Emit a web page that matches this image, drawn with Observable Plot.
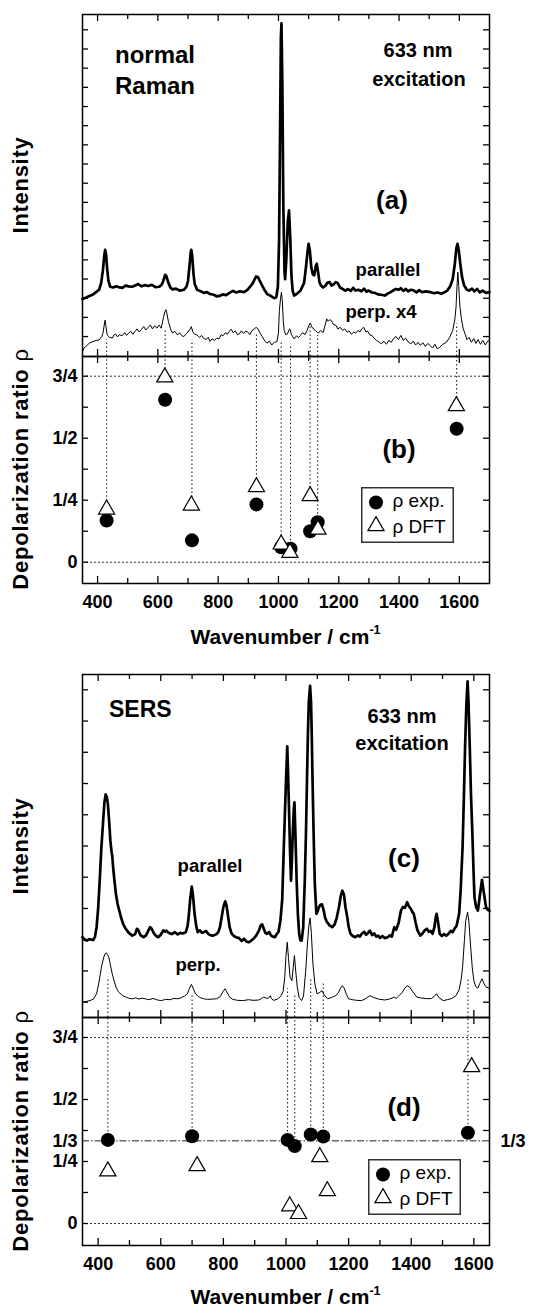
<!DOCTYPE html>
<html><head><meta charset="utf-8">
<script src="https://cdn.jsdelivr.net/npm/d3@7"></script>
<script src="https://cdn.jsdelivr.net/npm/@observablehq/plot@0.6"></script>
<style>
body{margin:0;background:#fff;}
#fig{position:relative;width:538px;height:1308px;font-family:'Liberation Sans',Arial,Helvetica,sans-serif;color:#000;overflow:hidden;}
#fig svg{position:absolute;left:0;}
.t{position:absolute;white-space:nowrap;line-height:1;}
.t sup{font-size:0.6em;vertical-align:0;position:relative;top:-0.75em;line-height:0;}
</style></head><body><div id="fig"></div>
<script>
// ================= DATA =================
// Panel (a): normal Raman spectra  [wavenumber, intensity (a.u.)]
const topParallel = [[350,0.98],[362,1.02],[373,1.06],[385,1.10],[395,1.16],[405,1.22],[412,1.40],[418,1.75],[422,2.10],[425,2.26],[428,2.15],[432,1.75],[436,1.45],[442,1.30],[452,1.28],[462,1.31],[470,1.29],[482,1.27],[493,1.33],[503,1.31],[515,1.30],[525,1.33],[535,1.37],[546,1.31],[557,1.34],[568,1.32],[580,1.35],[592,1.29],[605,1.30],[613,1.36],[618,1.45],[624,1.61],[628,1.58],[634,1.42],[642,1.27],[649,1.23],[660,1.25],[672,1.20],[686,1.22],[695,1.30],[700,1.45],[705,1.85],[709,2.20],[711,2.26],[714,2.10],[718,1.65],[722,1.38],[730,1.22],[742,1.18],[752,1.14],[763,1.16],[773,1.11],[785,1.09],[795,1.05],[805,1.06],[815,1.10],[826,1.08],[838,1.14],[849,1.19],[860,1.15],[872,1.18],[886,1.16],[897,1.22],[906,1.30],[914,1.38],[920,1.48],[926,1.57],[932,1.55],[938,1.45],[946,1.33],[955,1.20],[962,1.11],[970,1.08],[978,1.04],[986,1.00],[993,1.03],[998,1.30],[1002,2.5],[1005,5.0],[1008,7.8],[1010,8.17],[1013,6.5],[1016,3.5],[1020,1.7],[1022,1.5],[1026,2.0],[1031,3.0],[1035,3.29],[1039,2.6],[1043,1.6],[1047,1.2],[1052,1.07],[1062,1.12],[1073,1.20],[1085,1.40],[1091,1.80],[1097,2.25],[1100,2.42],[1104,2.25],[1109,1.80],[1114,1.62],[1119,1.60],[1124,1.85],[1127,1.90],[1131,1.70],[1136,1.42],[1141,1.33],[1148,1.28],[1155,1.32],[1162,1.40],[1170,1.42],[1176,1.33],[1183,1.36],[1190,1.42],[1196,1.40],[1204,1.28],[1213,1.24],[1222,1.20],[1230,1.24],[1240,1.19],[1248,1.27],[1256,1.20],[1265,1.22],[1275,1.18],[1284,1.25],[1292,1.17],[1299,1.20],[1310,1.15],[1320,1.14],[1330,1.10],[1340,1.09],[1353,1.07],[1362,1.12],[1372,1.16],[1380,1.20],[1390,1.24],[1398,1.22],[1406,1.26],[1414,1.19],[1422,1.24],[1430,1.18],[1440,1.22],[1449,1.20],[1458,1.15],[1466,1.21],[1476,1.16],[1490,1.18],[1503,1.16],[1515,1.13],[1527,1.15],[1540,1.12],[1550,1.15],[1560,1.20],[1570,1.32],[1578,1.50],[1585,1.90],[1590,2.30],[1594,2.42],[1598,2.25],[1603,1.90],[1609,1.55],[1616,1.33],[1625,1.22],[1632,1.20],[1642,1.25],[1650,1.18],[1659,1.24],[1668,1.15],[1677,1.20],[1688,1.14],[1700,1.16]];
const topPerp = [[350,-0.39],[355,-0.30],[362,-0.25],[373,-0.17],[385,-0.13],[395,-0.10],[405,-0.09],[414,0.0],[418,0.09],[422,0.30],[425,0.43],[428,0.25],[432,0.04],[440,-0.02],[449,-0.04],[455,0.05],[459,0.07],[466,-0.01],[472,0.05],[481,0.02],[490,0.10],[496,0.03],[503,0.09],[510,0.14],[517,0.06],[524,0.13],[531,0.20],[538,0.12],[546,0.19],[553,0.26],[560,0.17],[568,0.24],[575,0.30],[582,0.20],[589,0.28],[597,0.22],[604,0.30],[611,0.22],[616,0.40],[619,0.52],[624,0.66],[627,0.70],[630,0.60],[635,0.39],[642,0.20],[649,0.09],[656,0.14],[665,0.04],[672,0.10],[680,0.02],[686,0.0],[695,0.08],[700,0.12],[706,0.18],[711,0.26],[716,0.12],[722,0.06],[730,0.04],[738,-0.02],[745,0.03],[751,-0.04],[760,-0.08],[767,-0.02],[773,-0.13],[780,-0.06],[788,-0.10],[795,-0.04],[803,-0.06],[810,0.05],[816,0.02],[824,0.10],[830,0.06],[837,0.14],[843,0.19],[850,0.10],[857,0.15],[864,0.05],[870,0.07],[877,0.15],[884,0.08],[891,0.14],[897,0.13],[905,0.05],[912,0.15],[920,0.20],[926,0.24],[932,0.20],[940,0.08],[946,0.0],[955,-0.12],[962,-0.17],[970,-0.12],[978,-0.22],[986,-0.15],[995,-0.13],[1000,0.1],[1003,0.68],[1007,1.0],[1010,1.16],[1013,0.9],[1016,0.4],[1019,0.16],[1024,0.05],[1030,0.07],[1035,0.18],[1038,0.2],[1043,0.05],[1052,-0.06],[1060,0.02],[1066,-0.03],[1073,0.03],[1080,0.10],[1088,0.05],[1095,0.16],[1100,0.28],[1106,0.35],[1110,0.26],[1116,0.20],[1122,0.16],[1128,0.12],[1132,0.09],[1140,0.16],[1148,0.10],[1155,0.30],[1160,0.46],[1165,0.40],[1170,0.44],[1175,0.42],[1182,0.32],[1191,0.29],[1197,0.20],[1205,0.24],[1213,0.16],[1220,0.20],[1228,0.11],[1234,0.15],[1242,0.06],[1250,0.12],[1256,0.09],[1264,0.16],[1270,0.12],[1276,0.20],[1283,0.24],[1290,0.12],[1296,0.14],[1303,0.04],[1310,0.03],[1318,-0.05],[1325,-0.10],[1333,-0.14],[1342,-0.19],[1350,-0.12],[1358,-0.20],[1366,-0.10],[1374,-0.15],[1382,-0.05],[1390,0.0],[1398,-0.08],[1406,0.03],[1414,-0.10],[1422,-0.04],[1430,-0.14],[1439,-0.19],[1447,-0.12],[1455,-0.22],[1463,-0.15],[1471,-0.23],[1479,-0.16],[1487,-0.26],[1495,-0.18],[1503,-0.23],[1511,-0.30],[1519,-0.20],[1527,-0.32],[1535,-0.28],[1545,-0.20],[1557,-0.15],[1568,-0.02],[1578,0.16],[1585,0.45],[1589,0.77],[1592,1.30],[1595,1.68],[1598,1.30],[1602,0.77],[1607,0.45],[1613,0.2],[1620,0.05],[1625,-0.08],[1632,-0.02],[1640,-0.15],[1648,-0.05],[1655,-0.18],[1662,-0.08],[1670,-0.20],[1678,-0.10],[1686,-0.22],[1694,-0.12],[1700,-0.10]];

// Panel (b): depolarization ratios, normal Raman
const topModes   = [430, 624, 713, 927, 1009, 1040, 1105, 1130, 1591];
const topRhoExp  = [0.168, 0.655, 0.088, 0.233, 0.060, 0.054, 0.125, 0.161, 0.538];
const topDftX    = [430, 623, 711, 927, 1009, 1038, 1105, 1131, 1590];
const topRhoDft  = [0.213, 0.746, 0.229, 0.303, 0.072, 0.038, 0.267, 0.132, 0.630];
const topLinkEnd = [-0.09, 0.17, -0.09, 0.04, -0.15, -0.2, 0.33, 0.03, 0.33];

// Panel (c): SERS spectra
const botParallel = [[350,2.08],[358,2.00],[364,1.97],[372,2.02],[384,1.99],[390,2.10],[395,2.40],[400,3.00],[405,3.89],[410,4.90],[416,5.81],[420,6.40],[424,6.65],[428,6.55],[431,6.35],[435,5.80],[439,5.17],[443,4.80],[445,4.69],[448,4.30],[452,3.89],[457,3.45],[462,3.15],[467,2.95],[473,2.72],[480,2.50],[488,2.35],[498,2.22],[509,2.13],[518,2.18],[524,2.35],[528,2.31],[535,2.15],[545,2.08],[553,2.14],[560,2.28],[566,2.40],[571,2.35],[578,2.20],[585,2.12],[592,2.08],[600,2.16],[608,2.30],[614,2.26],[618,2.29],[625,2.22],[635,2.18],[645,2.24],[654,2.17],[662,2.22],[670,2.20],[680,2.24],[686,2.45],[690,2.83],[694,3.30],[699,3.70],[703,3.40],[708,2.83],[713,2.45],[718,2.24],[725,2.30],[732,2.22],[737,2.24],[745,2.28],[752,2.18],[760,2.14],[768,2.13],[778,2.18],[784,2.25],[789,2.40],[795,2.75],[800,3.05],[806,3.23],[810,3.10],[815,2.75],[820,2.40],[826,2.20],[833,2.12],[841,2.08],[850,2.05],[858,1.96],[866,2.03],[874,1.94],[882,1.92],[890,1.98],[898,2.05],[904,2.12],[908,2.19],[914,2.30],[919,2.45],[924,2.49],[929,2.35],[934,2.22],[939,2.19],[946,2.25],[952,2.14],[958,2.10],[965,2.08],[970,2.18],[976,2.25],[982,2.6],[988,3.3],[993,4.96],[997,6.2],[1000,7.09],[1004,8.19],[1007,7.2],[1010,6.03],[1013,4.8],[1016,3.89],[1019,4.6],[1022,5.49],[1025,6.2],[1027,6.4],[1030,5.4],[1034,3.89],[1038,2.8],[1042,2.19],[1046,1.98],[1050,1.97],[1055,2.4],[1060,3.89],[1064,5.5],[1067,7.09],[1070,8.6],[1073,9.65],[1077,10.13],[1080,9.6],[1082,8.69],[1085,7.0],[1088,5.49],[1092,3.8],[1097,2.83],[1101,2.9],[1105,3.04],[1110,3.12],[1115,3.13],[1120,2.95],[1125,2.70],[1130,2.58],[1140,2.45],[1148,2.40],[1155,2.48],[1162,2.70],[1169,3.04],[1175,3.40],[1180,3.57],[1185,3.45],[1190,3.04],[1196,2.70],[1200,2.42],[1206,2.19],[1213,2.12],[1221,2.08],[1230,2.14],[1236,2.10],[1242,2.19],[1250,2.25],[1256,2.16],[1262,2.22],[1268,2.29],[1275,2.15],[1282,2.20],[1288,2.10],[1294,2.13],[1300,2.06],[1308,2.12],[1315,2.05],[1325,2.08],[1332,2.14],[1338,2.10],[1346,2.40],[1352,2.32],[1360,2.55],[1367,2.93],[1374,3.05],[1380,3.02],[1387,3.20],[1392,3.08],[1398,3.00],[1403,2.90],[1408,2.83],[1414,2.55],[1420,2.30],[1429,2.13],[1436,2.20],[1443,2.30],[1450,2.35],[1456,2.25],[1462,2.28],[1468,2.19],[1474,2.40],[1478,2.70],[1481,2.83],[1485,2.60],[1491,2.19],[1498,2.12],[1505,2.18],[1512,2.13],[1520,2.20],[1526,2.28],[1532,2.24],[1538,2.35],[1545,2.45],[1553,2.83],[1558,3.60],[1564,4.96],[1568,6.5],[1572,8.16],[1576,9.5],[1580,10.27],[1583,9.6],[1587,8.16],[1591,6.6],[1595,5.49],[1599,4.2],[1602,3.36],[1607,3.05],[1613,2.93],[1619,3.40],[1626,3.92],[1632,3.50],[1639,3.04],[1645,2.95],[1650,2.93]];
const botPerp = [[350,0.0],[360,0.02],[374,0.05],[385,0.10],[395,0.27],[401,0.55],[407,0.91],[412,1.20],[418,1.44],[422,1.55],[426,1.58],[430,1.52],[434,1.44],[440,1.15],[445,0.91],[451,0.68],[457,0.48],[465,0.33],[478,0.21],[490,0.16],[500,0.12],[509,0.11],[520,0.14],[530,0.10],[540,0.13],[550,0.11],[562,0.08],[575,0.12],[590,0.07],[602,0.05],[615,0.09],[630,0.08],[642,0.12],[654,0.11],[665,0.14],[676,0.20],[685,0.27],[692,0.45],[698,0.57],[703,0.45],[711,0.27],[720,0.18],[728,0.14],[737,0.11],[750,0.09],[765,0.10],[779,0.11],[790,0.18],[798,0.33],[805,0.43],[811,0.33],[820,0.16],[830,0.09],[845,0.06],[862,0.05],[880,0.08],[895,0.06],[913,0.07],[922,0.12],[929,0.16],[940,0.12],[946,0.15],[950,0.21],[953,0.12],[960,0.06],[968,0.08],[976,0.12],[984,0.20],[991,0.35],[996,0.8],[1000,1.5],[1004,1.92],[1008,1.4],[1013,0.8],[1019,0.69],[1023,1.1],[1027,1.49],[1031,1.0],[1036,0.48],[1042,0.15],[1050,0.05],[1056,0.2],[1063,1.01],[1068,1.8],[1073,2.45],[1077,2.7],[1081,2.2],[1086,1.23],[1092,0.6],[1099,0.27],[1106,0.30],[1115,0.37],[1123,0.22],[1133,0.11],[1145,0.15],[1159,0.21],[1167,0.30],[1174,0.45],[1180,0.53],[1186,0.45],[1193,0.25],[1200,0.11],[1212,0.08],[1225,0.06],[1242,0.05],[1255,0.12],[1268,0.21],[1280,0.15],[1295,0.10],[1315,0.07],[1330,0.10],[1346,0.16],[1352,0.12],[1360,0.20],[1370,0.30],[1380,0.45],[1387,0.53],[1395,0.48],[1404,0.35],[1418,0.16],[1430,0.14],[1450,0.11],[1465,0.12],[1475,0.20],[1481,0.27],[1488,0.15],[1502,0.05],[1515,0.08],[1530,0.12],[1543,0.21],[1553,0.40],[1560,0.75],[1564,1.12],[1570,2.0],[1574,2.61],[1580,2.88],[1584,2.6],[1590,1.76],[1595,1.1],[1600,0.69],[1606,0.50],[1613,0.45],[1619,0.60],[1626,0.75],[1633,0.58],[1640,0.48],[1650,0.45]];

// Panel (d): depolarization ratios, SERS
const botModes   = [431, 700, 1005, 1028, 1079, 1119, 1581];
const botRhoExp  = [0.337, 0.352, 0.337, 0.312, 0.359, 0.351, 0.366];
const botDftX    = [431, 716, 1012, 1040, 1108, 1132, 1593];
const botRhoDft  = [0.211, 0.232, 0.070, 0.039, 0.268, 0.131, 0.631];
const botLinkEnd = [0.8, 0.27, 0.43, 0.2, 0.75, 0.64, 0.75];

// Axes / ticks
const xTickVals = [400,500,600,700,800,900,1000,1100,1200,1300,1400,1500,1600];
const xLabelVals = [400,600,800,1000,1200,1400,1600];
const rhoTickVals = [0,0.125,0.25,0.375,0.5,0.625,0.75];
const rhoLabelValsTop = [0,0.25,0.5,0.75];
const rhoLabelsTop = ["0","1/4","1/2","3/4"];
const rhoLabelValsBot = [0,0.25,1/3,0.5,0.75];
const rhoLabelsBot = ["0","1/4","1/3","1/2","3/4"];
const intTicksTop = [0,0.5,1,1.5,2,2.5,3,3.5,4,4.5,5,5.5,6,6.5,7,7.5,8];
const intTicksBot = [0,1,2,3,4,5,6,7,8,9,10];

// ================= DRAWING =================
const FONT = "'Liberation Sans', Arial, Helvetica, sans-serif";
const fig = document.getElementById("fig");
const W = 538, ML = 82, MR = 49, FW = W - ML - MR;

function xTicks(fh) {
  const major = xTickVals.filter(v => v % 200 === 0);
  const minor = xTickVals.filter(v => v % 200 !== 0);
  const o = {x: d => d, stroke: "black", strokeWidth: 1.3};
  return [
    Plot.tickX(major, {...o, insetBottom: fh - 7}),
    Plot.tickX(minor, {...o, insetBottom: fh - 5}),
    Plot.tickX(major, {...o, insetTop: fh - 7}),
    Plot.tickX(minor, {...o, insetTop: fh - 5})
  ];
}
function yTicks(vals) {
  const o = {y: d => d, stroke: "black", strokeWidth: 1.3};
  return [
    Plot.tickY(vals, {...o, insetRight: FW - 6}),
    Plot.tickY(vals, {...o, insetLeft: FW - 6})
  ];
}
function place(svg, top) {
  svg.style.top = top + "px";
  fig.appendChild(svg);
}
const baseStyle = {fontFamily: FONT, fontSize: "18px", fontWeight: "bold", background: "none", overflow: "visible"};

function spectrum({top, marginTop, height, xDomain, yDomain, parallel, perp, modes, linkEnd, ticks}) {
  const fh = height - marginTop;
  const links = modes.map((m, i) => ({x: m, y2: linkEnd[i]}));
  return place(Plot.plot({
    width: W, height, marginTop, marginBottom: 0, marginLeft: ML, marginRight: MR,
    x: {domain: xDomain, axis: null},
    y: {domain: yDomain, axis: null},
    style: baseStyle,
    marks: [
      Plot.ruleX(links, {x: "x", y1: yDomain[0], y2: "y2", stroke: "#222", strokeWidth: 1.1, strokeDasharray: "1.5,2.5"}),
      Plot.line(perp, {x: d => d[0], y: d => d[1], stroke: "black", strokeWidth: 1}),
      Plot.line(parallel, {x: d => d[0], y: d => d[1], stroke: "black", strokeWidth: 2.7, strokeLinejoin: "round"}),
      ...xTicks(fh),
      ...yTicks(ticks),
      Plot.frame({stroke: "black", strokeWidth: 1.5})
    ]
  }), top);
}

function ratios({top, height, fh, xDomain, yDomain, modes, exp, dftX, dft, labelVals, labels, third}) {
  const expData = modes.map((m, i) => ({x: m, y: exp[i]}));
  const dftData = dftX.map((m, i) => ({x: m, y: dft[i]}));
  const links = modes.map((m, i) => ({x: m, y1: third ? exp[i] : Math.max(exp[i], dft[i])}));
  const marks = [
    Plot.ruleY([0, 0.75], {stroke: "#333", strokeWidth: 1, strokeDasharray: "2,2"}),
  ];
  if (third) {
    marks.push(Plot.ruleY([1/3], {stroke: "#222", strokeWidth: 1, strokeDasharray: "7,2,1.5,2"}));
    marks.push(Plot.text([1/3], {y: d => d, text: () => "1/3", frameAnchor: "right", dx: 11, textAnchor: "start", fontSize: 18, fontWeight: "bold"}));
  }
  marks.push(
    Plot.ruleX(links, {x: "x", y1: "y1", y2: yDomain[1], stroke: "#222", strokeWidth: 1.1, strokeDasharray: "1.5,2.5"}),
    Plot.dot(expData, {x: "x", y: "y", r: 7, fill: "black", stroke: "none", symbol: "circle"}),
    Plot.dot(dftData, {x: "x", y: "y", r: 6, fill: "white", stroke: "black", strokeWidth: 1.2, symbol: "triangle"}),
    ...xTicks(fh),
    ...yTicks(rhoTickVals),
    Plot.text(xLabelVals, {x: d => d, text: d => String(d), frameAnchor: "bottom", lineAnchor: "top", dy: 11.5, fontSize: 18, fontWeight: "bold"}),
    Plot.text(labelVals, {y: d => d, text: (d, i) => labels[i], frameAnchor: "left", textAnchor: "end", dx: -5, fontSize: 18, fontWeight: "bold"}),
    Plot.frame({stroke: "black", strokeWidth: 1.5})
  );
  return place(Plot.plot({
    width: W, height, marginTop: 0, marginBottom: height - fh, marginLeft: ML, marginRight: MR,
    x: {domain: xDomain, axis: null},
    y: {domain: yDomain, axis: null},
    style: baseStyle,
    marks
  }), top);
}

// (a)
spectrum({top: 0, marginTop: 14, height: 356, xDomain: [350, 1700], yDomain: [-0.52, 8.40],
  parallel: topParallel, perp: topPerp, modes: topModes, linkEnd: topLinkEnd, ticks: intTicksTop});
// (b)
ratios({top: 356, height: 292, fh: 227, xDomain: [350, 1700], yDomain: [-0.0859, 0.8294],
  modes: topModes, exp: topRhoExp, dftX: topDftX, dft: topRhoDft,
  labelVals: rhoLabelValsTop, labels: rhoLabelsTop, third: false});
// (c)
spectrum({top: 650, marginTop: 24, height: 367, xDomain: [350, 1650], yDomain: [-0.49, 10.49],
  parallel: botParallel, perp: botPerp, modes: botModes, linkEnd: botLinkEnd, ticks: intTicksBot});
// (d)
ratios({top: 1017, height: 291, fh: 228, xDomain: [350, 1650], yDomain: [-0.0887, 0.8306],
  modes: botModes, exp: botRhoExp, dftX: botDftX, dft: botRhoDft,
  labelVals: rhoLabelValsBot, labels: rhoLabelsBot, third: true});

// ---- text annotations ----
function label(html, x, base, fs, anchor = "start", weight = "bold", extra = "") {
  const d = document.createElement("div");
  d.className = "t";
  d.innerHTML = html;
  d.style.fontSize = fs + "px";
  d.style.fontWeight = weight;
  d.style.left = x + "px";
  d.style.top = (base - 0.8465 * fs) + "px";
  const tx = anchor === "middle" ? "-50%" : anchor === "end" ? "-100%" : "0";
  d.style.transform = `translateX(${tx})`;
  if (extra) d.style.cssText += extra;
  fig.appendChild(d);
}
function vlabel(html, cx, cy, fs, spacing) {
  const d = document.createElement("div");
  d.className = "t";
  d.innerHTML = html;
  d.style.fontSize = fs + "px";
  d.style.fontWeight = "bold";
  d.style.letterSpacing = spacing + "px";
  d.style.left = cx + "px";
  d.style.top = cy + "px";
  d.style.transform = "translate(-50%,-50%) rotate(-90deg)";
  fig.appendChild(d);
}

// top panel texts
label("normal", 115, 63.3, 24);
label("Raman", 115, 94, 24);
label("633 nm", 418, 57.3, 20, "middle");
label("excitation", 419, 86, 20, "middle");
label("(a)", 392, 209, 26, "middle");
label("parallel", 388, 276.7, 18.5, "middle");
label("perp. x4", 381, 318.3, 18.5, "middle");
label("(b)", 399, 458.3, 26, "middle");
label("Wavenumber / cm<sup>-1</sup>", 285.5, 643.3, 21, "middle");
vlabel("Intensity", 21, 185, 22, 0.7);
vlabel("Depolarization ratio <span style='font-weight:normal'>ρ</span>", 21, 469, 22, 0.8);

// bottom panel texts
label("SERS", 109, 717.7, 23);
label("633 nm", 402, 722.7, 20, "middle");
label("excitation", 402, 750, 20, "middle");
label("(c)", 404, 866.7, 26, "middle");
label("parallel", 210, 872.7, 18.5, "middle");
label("perp.", 198, 971.7, 18.5, "middle");
label("(d)", 404, 1116, 26, "middle");
label("Wavenumber / cm<sup>-1</sup>", 285.5, 1304, 21, "middle");
vlabel("Intensity", 21, 845.5, 22, 0.7);
vlabel("Depolarization ratio <span style='font-weight:normal'>ρ</span>", 21, 1131, 22, 0.8);

// ---- legends ----
function legend(x0, y0) {
  const svg = d3.select(fig).append("svg")
    .attr("width", 93).attr("height", 56)
    .style("position", "absolute").style("left", x0 + "px").style("top", y0 + "px");
  svg.append("rect").attr("x", 0.75).attr("y", 0.75).attr("width", 91.5).attr("height", 54.5)
    .attr("fill", "white").attr("stroke", "#333").attr("stroke-width", 1.5);
  svg.append("circle").attr("cx", 15).attr("cy", 15.5).attr("r", 7).attr("fill", "black");
  svg.append("path").attr("d", d3.symbol(d3.symbolTriangle, Math.PI * 36)())
    .attr("transform", "translate(15,39)").attr("fill", "white").attr("stroke", "black").attr("stroke-width", 1.2);
  const t = {"font-family": FONT, "font-size": 19};
  svg.append("text").attr("x", 31.5).attr("y", 20).attr("font-family", FONT).attr("font-size", 19).text("ρ exp.");
  svg.append("text").attr("x", 31.5).attr("y", 45.5).attr("font-family", FONT).attr("font-size", 19).text("ρ DFT");
}
legend(360.5, 486.5);
legend(367.5, 1159);
</script></body></html>
